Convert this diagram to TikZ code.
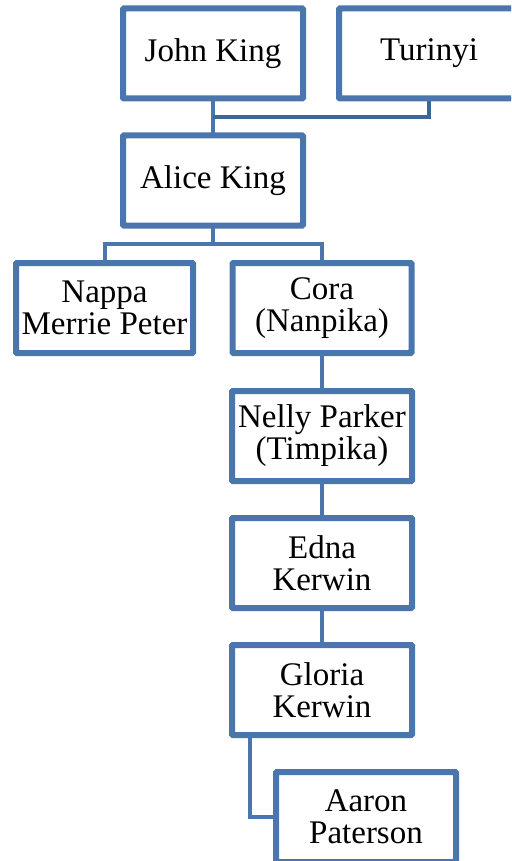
\documentclass[tikz,border=0pt]{standalone}
\usepackage{fontspec}
\setmainfont{Liberation Serif}
\usetikzlibrary{calc}
\definecolor{boxblue}{HTML}{4A76AD}
\definecolor{linkblue}{HTML}{3F6699}
\begin{document}
\begin{tikzpicture}[x=1pt,y=-1pt,
  person/.style={draw=boxblue, line width=4pt, rounded corners=1.5pt, fill=white,
    minimum width=178pt, minimum height=88pt, inner sep=0pt,
    align=center, font=\fontsize{33}{32}\selectfont},
  link/.style={draw=boxblue, line width=4pt}]
  \clip (0,0) rectangle (511,861);
  \fill[white] (0,0) rectangle (511,861);

  % family tree boxes
  \node[person] (John)   at (213,53.5)  {John King};
  \node[person] (Turinyi) at (429,53.5) {Turinyi};
  \node[person] (Alice)  at (213,180.5) {Alice King};
  \node[person, minimum width=175pt] (Nappa) at (104.5,308) {Nappa\\Merrie Peter};
  \node[person, minimum width=177pt] (Cora)  at (322,308) {Cora\\(Nanpika)};
  \node[person] (Nelly)  at (322,436) {Nelly Parker\\(Timpika)};
  \node[person] (Edna)   at (322,563) {Edna\\Kerwin};
  \node[person] (Gloria) at (322,690) {Gloria\\Kerwin};
  \node[person] (Aaron)  at (366,817) {Aaron\\Paterson};

  % junction points of the connectors
  \coordinate (m1) at ($(John.south)!0.5!(Alice.north)$);
  \coordinate (m2) at ($(Alice.south)!0.5!(Alice.south |- Nappa.north)$);
  \coordinate (g1) at ([xshift=19pt]Gloria.south west);

  % connectors
  \draw[link] (John.south) -- (Alice.north);
  \draw[link, draw=linkblue] (Turinyi.south) |- (m1);
  \draw[link] (Alice.south) -- (m2);
  \draw[link] (Nappa.north) |- (m2) -| (Cora.north);
  \draw[link] (Cora.south) -- (Nelly.north);
  \draw[link] (Nelly.south) -- (Edna.north);
  \draw[link] (Edna.south) -- (Gloria.north);
  \draw[link] (g1) |- (Aaron.west);

  % redraw boxes over the connector ends
  \foreach \n in {John,Turinyi,Alice,Nappa,Cora,Nelly,Edna,Gloria,Aaron}
    \draw[boxblue, line width=4pt, rounded corners=1.5pt] (\n.north west) rectangle (\n.south east);
\end{tikzpicture}
\end{document}
